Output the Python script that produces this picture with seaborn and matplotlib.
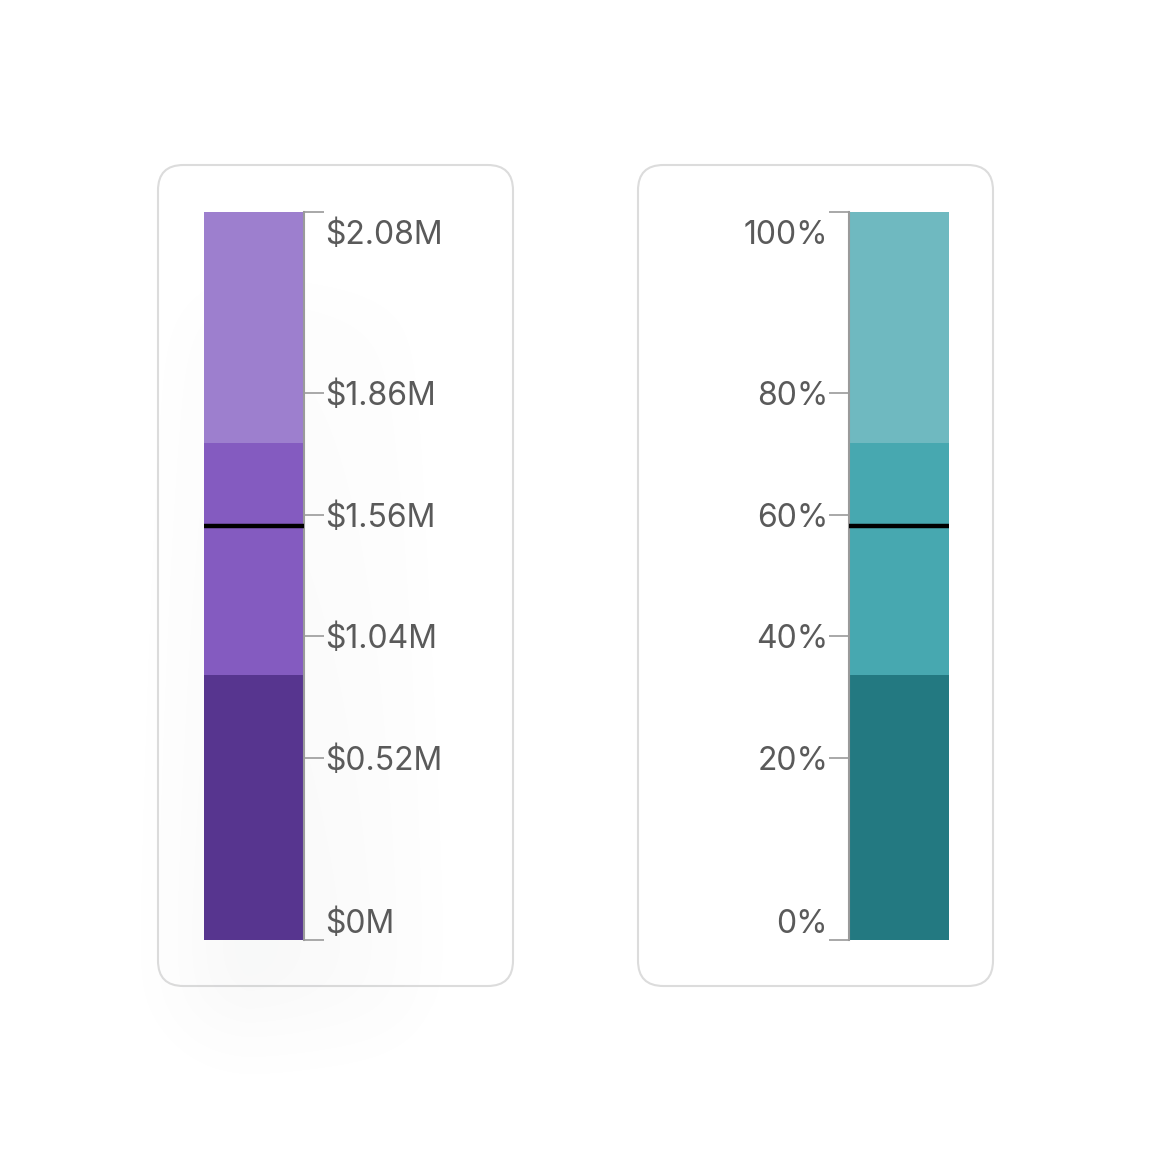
import numpy as np
import seaborn as sns
import matplotlib.pyplot as plt
import matplotlib.transforms as mtransforms
from matplotlib.patches import FancyBboxPatch

# gauge bands, as % of the track height (dark, mid, light)
band_tops = [36.4, 68.3, 100]
target = 56.8
tick_pos = [0, 25, 41.8, 58.4, 75.1, 100]
money_labels = ["$0M", "$0.52M", "$1.04M", "$1.56M", "$1.86M", "$2.08M"]
pct_labels = ["0%", "20%", "40%", "60%", "80%", "100%"]
purples = ["#57358f", "#845bc0", "#9d7fce"]
teals = ["#237981", "#47a8b0", "#6fb9c0"]

sns.set_style("white")
plt.rcParams["font.family"] = ["Inter", "DejaVu Sans"]

W = 1152
fig = plt.figure(figsize=(11.52, 11.52), dpi=100)


def fx(px):
    return px / W


def fy(py):
    return 1 - py / W


# soft shadow behind the left card's bar
bg = fig.add_axes([0, 0, 1, 1], zorder=-1)
bg.set_axis_off()
g = np.arange(0, W, 4) + 2
X, Y = np.meshgrid(g, g)
s = 22.0
sig = lambda v: 1 / (1 + np.exp(-v))
shade = (sig((X - 195) / s) * sig((420 - X) / s) *
         sig((Y - 300) / s) * sig((1020 - Y) / s))
shade = shade * (0.3 + 0.7 * np.clip((Y - 300) / 700, 0, 1))
shade = shade * np.clip(1.2 - (X - 195) / 260, 0.3, 1)
img = np.zeros(X.shape + (4,))
img[..., :3] = (0.45, 0.47, 0.5)
img[..., 3] = 0.055 * shade

# cards
for x0 in (158, 638):
    card = FancyBboxPatch((fx(x0), fy(986)), fx(355), 821 / W,
                          boxstyle="round,pad=0,rounding_size=0.022",
                          transform=fig.transFigure, facecolor="white",
                          edgecolor="#dcdcdc", linewidth=1.5, zorder=-2)
    fig.add_artist(card)

bg.imshow(img, extent=(0, W, W, 0), interpolation="bilinear")
bg.set_xlim(0, W)
bg.set_ylim(W, 0)


def gauge(left_px, colors, labels, side):
    ax = fig.add_axes([fx(left_px), fy(940), fx(100), 728 / W], zorder=1)
    ax.patch.set_alpha(0)
    # tallest band first so the shorter ones sit on top
    for top, c in sorted(zip(band_tops, colors), reverse=True):
        sns.barplot(x=["track"], y=[top], color=c, width=1, saturation=1,
                    linewidth=0, ax=ax)
    ax.axhline(target, color="black", lw=3.2, zorder=5)
    ax.set_xlim(-0.5, 0.5)
    ax.set_ylim(0, 100)
    ax.set_xlabel("")
    ax.set_ylabel("")
    ax.set_xticks([])
    for sp in ax.spines.values():
        sp.set_visible(False)
    ax.spines[side].set_visible(True)
    ax.spines[side].set_color("#9a9a9a")
    ax.spines[side].set_linewidth(1.5)
    if side == "right":
        ax.yaxis.tick_right()
        pad = 0.8
    else:
        ax.yaxis.tick_left()
        pad = 0.6
    ax.set_yticks(tick_pos, labels)
    ax.tick_params(axis="y", length=14.4, width=1.2, color="#9a9a9a",
                   labelsize=23, labelcolor="#5a5a5a", pad=pad)
    tl = ax.get_yticklabels()
    tl[0].set_va("bottom")
    tl[-1].set_va("top")
    shift = mtransforms.ScaledTranslation(0, -6 / 72, fig.dpi_scale_trans)
    tl[-1].set_transform(tl[-1].get_transform() + shift)
    return ax


gauge(204, purples, money_labels, "right")
gauge(849, teals, pct_labels, "left")

fig.savefig("out.png", dpi=100, facecolor="white")
